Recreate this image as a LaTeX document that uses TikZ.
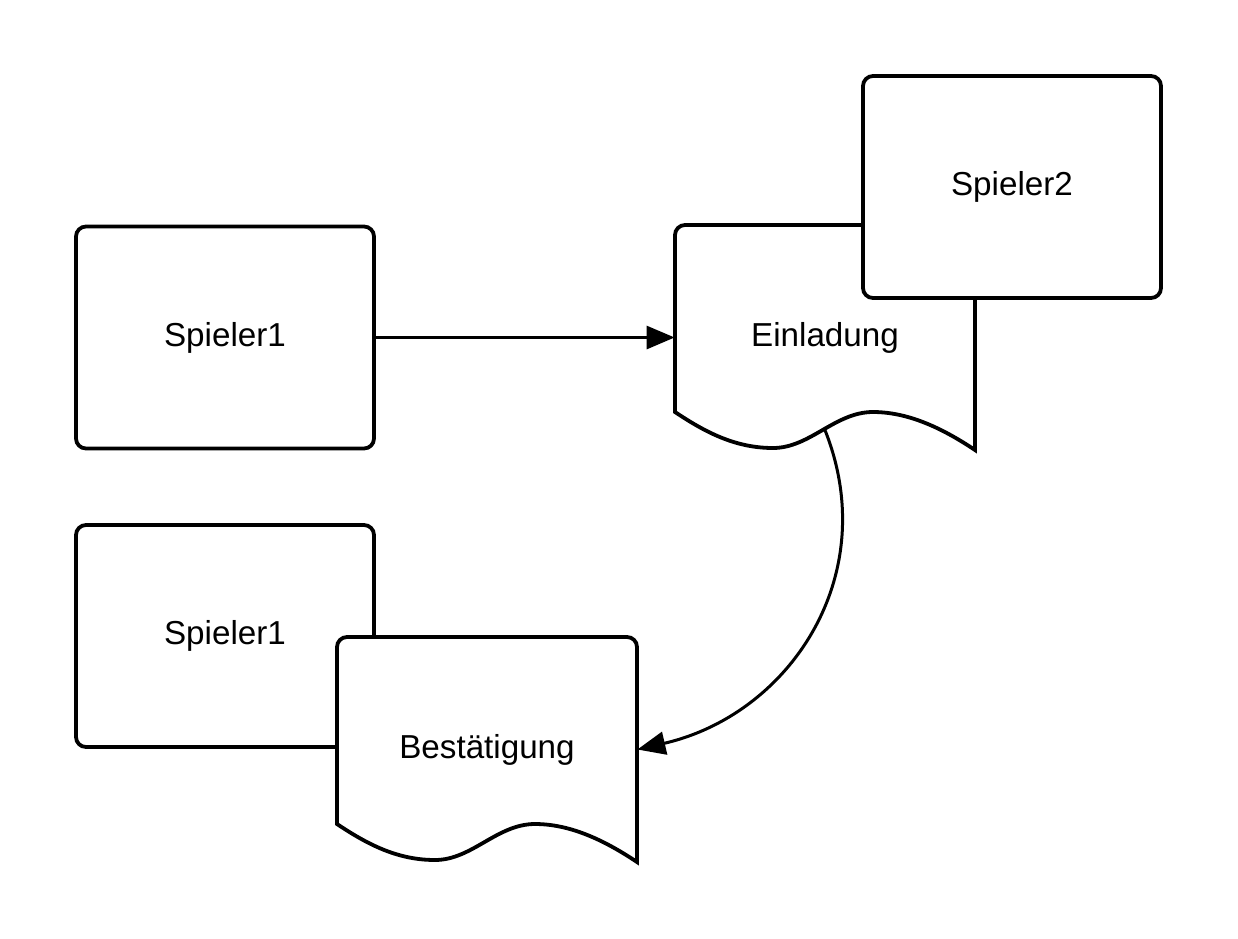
\documentclass[tikz,border=0pt]{standalone}
\usepackage{fontspec}
\setmainfont{Liberation Sans}
\usetikzlibrary{arrows.meta,positioning}
\newcommand{\docshape}[3]{% #1 top left corner, #2 name, #3 text
  \begin{scope}[shift={#1}]
    \draw[doc] (0,187) [rounded corners=5pt] -- (0,0) -- (300,0) [sharp corners] -- (300,225)
      .. controls (270,205) and (235,187) .. (198,187)
      .. controls (160,187) and (135,223) .. (98,223) coordinate[pos=.48] (#2-wave)
      .. controls (60,223) and (30,207) .. (0,187) -- cycle;
    \node[doctext] (#2) at (150,112.5) {#3};
  \end{scope}}

\begin{document}
\begin{tikzpicture}[x=0.5pt,y=-0.5pt,
  font=\fontsize{16.6}{20}\selectfont,
  box/.style={draw,fill=white,line width=1.9pt,rounded corners=5pt,minimum width=149pt,minimum height=111pt,inner sep=0pt},
  doc/.style={draw,fill=white,line width=1.9pt},
  doctext/.style={minimum width=150pt,minimum height=112.5pt,inner sep=0pt},
  arr/.style={line width=1.5pt,-{Triangle[length=14pt,width=11.5pt]}}]
  \useasboundingbox (0,0) rectangle (1238,938);
  \node[box] (sp1) at (225,337.5) {Spieler1};
  \docshape{(675,225)}{einl}{Einladung}
  \node[box] (sp2) at (1012,187) {Spieler2};
  \node[box] (sp1b) at (225,636) {Spieler1};
  \docshape{(337,637)}{best}{Bestätigung}
  \draw[arr] (sp1) -- (einl);
  \draw[arr] (einl-wave) to[out=-68,in=13,looseness=1.08] (best.east);
\end{tikzpicture}
\end{document}
